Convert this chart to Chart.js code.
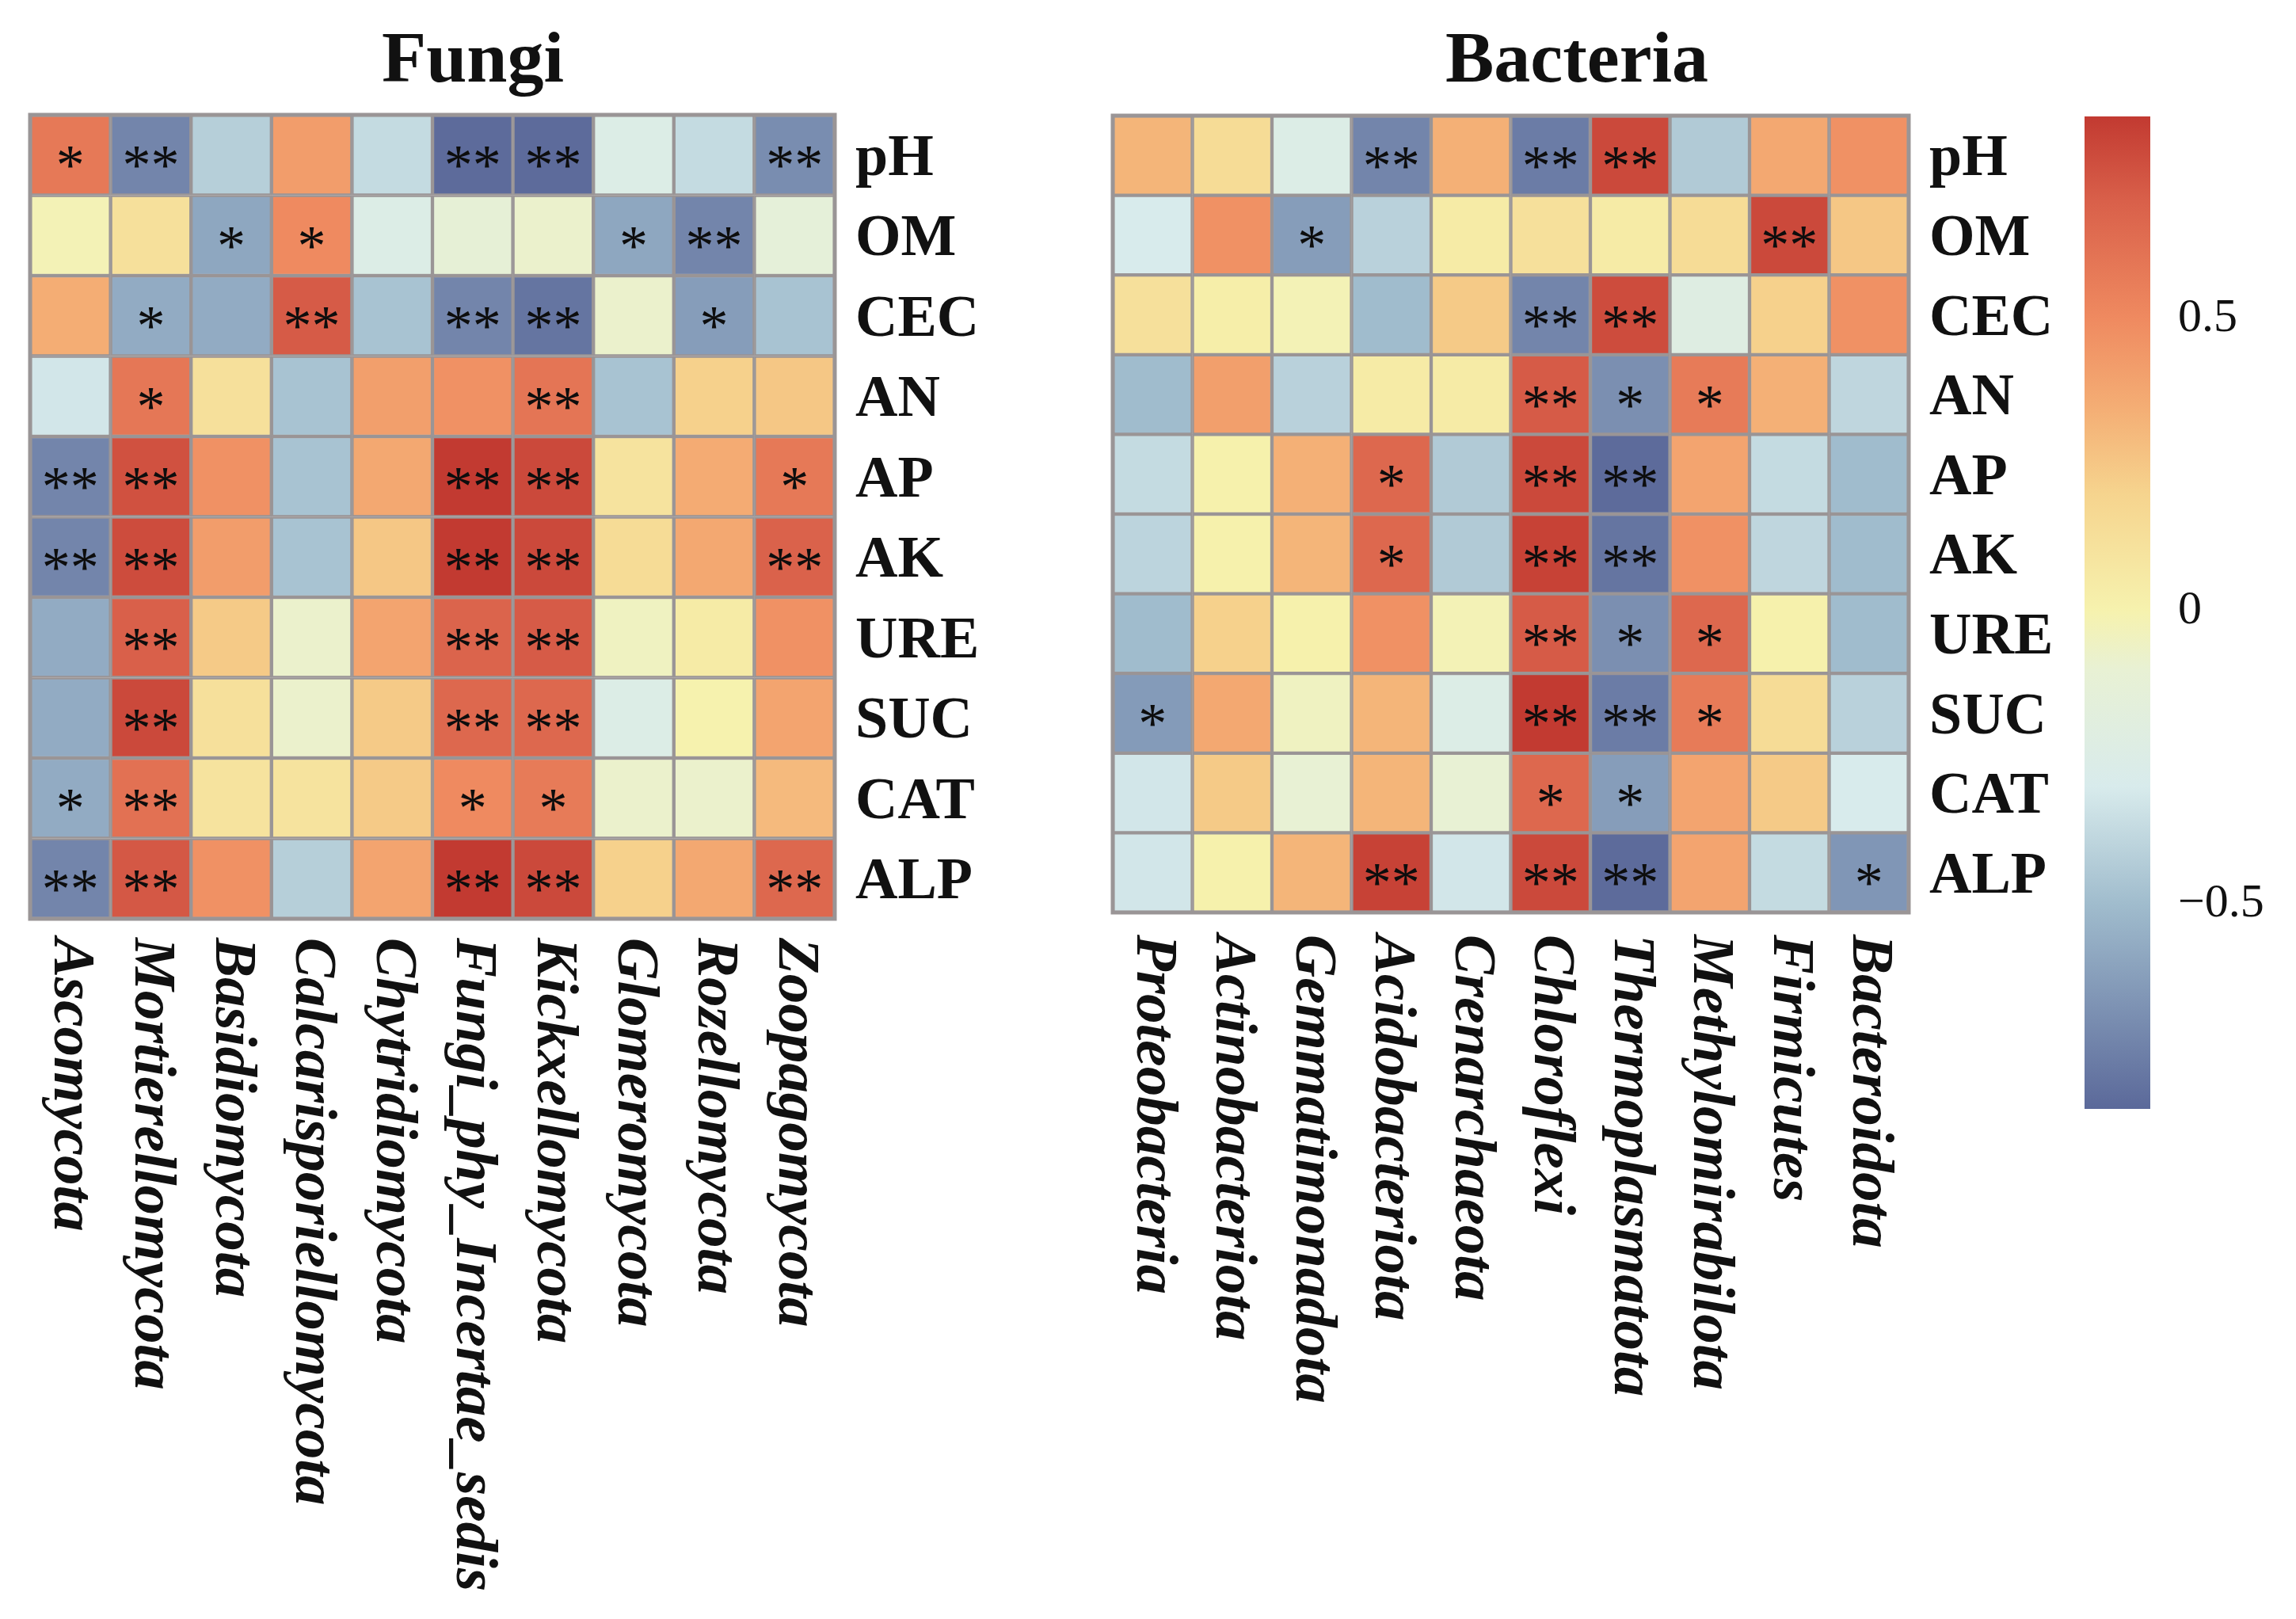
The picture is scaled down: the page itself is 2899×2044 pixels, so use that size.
<!DOCTYPE html>
<html>
<head>
<meta charset="utf-8">
<script src="https://cdn.jsdelivr.net/npm/chart.js@4.4.1/dist/chart.umd.min.js"></script>
<style>
  html, body { margin: 0; padding: 0; background: #fff; }
  #wrap { position: relative; width: 2899px; height: 2044px; background: #fff; }
  canvas { position: absolute; left: 0; top: 0; }
</style>
</head>
<body>
<div id="wrap">
  <canvas id="fungi" width="2899" height="2044"></canvas>
  <canvas id="bacteria" width="2899" height="2044"></canvas>
  <canvas id="bar" width="2899" height="2044"></canvas>
</div>
<script>
const soilVars = ['pH', 'OM', 'CEC', 'AN', 'AP', 'AK', 'URE', 'SUC', 'CAT', 'ALP'];

const fungiTaxa = ['Ascomycota', 'Mortierellomycota', 'Basidiomycota', 'Calcarisporiellomycota',
  'Chytridiomycota', 'Fungi_phy_Incertae_sedis', 'Kickxellomycota', 'Glomeromycota',
  'Rozellomycota', 'Zoopagomycota'];

const bacteriaTaxa = ['Proteobacteria', 'Actinobacteriota', 'Gemmatimonadota', 'Acidobacteriota',
  'Crenarchaeota', 'Chloroflexi', 'Thermoplasmatota', 'Methylomirabilota', 'Firmicutes', 'Bacteroidota'];

// correlation, one row per soil variable
const fungiR = [
  [0.58, -0.73, -0.42, 0.42, -0.37, -0.84, -0.84, -0.25, -0.37, -0.70],
  [-0.02, 0.12, -0.59, 0.50, -0.25, -0.12, -0.08, -0.59, -0.73, -0.14],
  [0.35, -0.57, -0.57, 0.72, -0.47, -0.73, -0.80, -0.08, -0.63, -0.47],
  [-0.32, 0.59, 0.12, -0.47, 0.41, 0.47, 0.60, -0.47, 0.21, 0.25],
  [-0.73, 0.76, 0.47, -0.47, 0.37, 0.85, 0.79, 0.10, 0.36, 0.58],
  [-0.73, 0.78, 0.42, -0.47, 0.25, 0.85, 0.79, 0.15, 0.37, 0.69],
  [-0.57, 0.70, 0.24, -0.08, 0.39, 0.68, 0.72, -0.05, 0.05, 0.47],
  [-0.57, 0.79, 0.12, -0.08, 0.24, 0.66, 0.66, -0.25, 0.00, 0.39],
  [-0.57, 0.62, 0.10, 0.10, 0.24, 0.50, 0.57, -0.08, -0.08, 0.30],
  [-0.73, 0.73, 0.47, -0.42, 0.39, 0.85, 0.79, 0.21, 0.37, 0.66]
];
const fungiSig = [
  ['*', '**', '', '', '', '**', '**', '', '', '**'],
  ['', '', '*', '*', '', '', '', '*', '**', ''],
  ['', '*', '', '**', '', '**', '**', '', '*', ''],
  ['', '*', '', '', '', '', '**', '', '', ''],
  ['**', '**', '', '', '', '**', '**', '', '', '*'],
  ['**', '**', '', '', '', '**', '**', '', '', '**'],
  ['', '**', '', '', '', '**', '**', '', '', ''],
  ['', '**', '', '', '', '**', '**', '', '', ''],
  ['*', '**', '', '', '', '*', '*', '', '', ''],
  ['**', '**', '', '', '', '**', '**', '', '', '**']
];

const bacteriaR = [
  [0.32, 0.15, -0.25, -0.73, 0.34, -0.77, 0.79, -0.44, 0.37, 0.47],
  [-0.30, 0.47, -0.63, -0.41, 0.05, 0.12, 0.05, 0.15, 0.79, 0.25],
  [0.12, 0.03, -0.02, -0.50, 0.24, -0.73, 0.78, -0.22, 0.21, 0.47],
  [-0.50, 0.41, -0.41, 0.05, 0.05, 0.72, -0.69, 0.57, 0.34, -0.39],
  [-0.37, 0.01, 0.34, 0.66, -0.44, 0.79, -0.84, 0.39, -0.37, -0.50],
  [-0.40, 0.01, 0.32, 0.66, -0.44, 0.82, -0.80, 0.47, -0.39, -0.50],
  [-0.50, 0.21, 0.01, 0.47, -0.02, 0.72, -0.69, 0.66, 0.01, -0.50],
  [-0.64, 0.37, -0.05, 0.32, -0.25, 0.85, -0.77, 0.57, 0.15, -0.41],
  [-0.32, 0.24, -0.10, 0.32, -0.10, 0.66, -0.63, 0.39, 0.24, -0.30],
  [-0.32, 0.01, 0.32, 0.82, -0.32, 0.79, -0.84, 0.39, -0.37, -0.66]
];
const bacteriaSig = [
  ['', '', '', '**', '', '**', '**', '', '', ''],
  ['', '', '*', '', '', '', '', '', '**', ''],
  ['', '', '', '', '', '**', '**', '', '', ''],
  ['', '', '', '', '', '**', '*', '*', '', ''],
  ['', '', '', '*', '', '**', '**', '', '', ''],
  ['', '', '', '*', '', '**', '**', '', '', ''],
  ['', '', '', '', '', '**', '*', '*', '', ''],
  ['*', '', '', '', '', '**', '**', '*', '', ''],
  ['', '', '', '', '', '*', '*', '', '', ''],
  ['', '', '', '**', '', '**', '**', '', '', '*']
];

const barTicks = [-0.5, 0, 0.5];
const barMin = -0.85;
const barMax = 0.845;

// colour scale (blue - yellow - red)
const cmap = [
  [-0.85, [91, 105, 154]],
  [-0.5, [160, 188, 205]],
  [-0.3, [216, 235, 236]],
  [-0.1, [232, 241, 212]],
  [0, [246, 242, 174]],
  [0.2, [246, 212, 142]],
  [0.35, [244, 173, 116]],
  [0.5, [239, 138, 96]],
  [0.7, [217, 96, 74]],
  [0.85, [194, 58, 49]]
];

function colorFor(v) {
  if (v <= cmap[0][0]) return 'rgb(' + cmap[0][1].join(',') + ')';
  for (let k = 1; k < cmap.length; k++) {
    if (v <= cmap[k][0]) {
      const a = cmap[k - 1], b = cmap[k];
      const t = (v - a[0]) / (b[0] - a[0]);
      const c = a[1].map((x, n) => Math.round(x + (b[1][n] - x) * t));
      return 'rgb(' + c.join(',') + ')';
    }
  }
  return 'rgb(' + cmap[cmap.length - 1][1].join(',') + ')';
}

const FONT = '"Liberation Serif", "Times New Roman", serif';
const GRID = '#9a9596';

function heatLabels(title, titleX, sig, labelGap) {
  return {
    id: 'heatLabels',
    afterDatasetsDraw(chart) {
      const { ctx, chartArea, scales } = chart;
      const xs = scales.x, ys = scales.y;
      ctx.save();
      // outer frame
      ctx.strokeStyle = GRID;
      ctx.lineWidth = 5;
      ctx.strokeRect(chartArea.left, chartArea.top, chartArea.right - chartArea.left, chartArea.bottom - chartArea.top);

      // significance stars
      ctx.fillStyle = '#0d0d0d';
      ctx.font = '72px ' + FONT;
      ctx.textAlign = 'center';
      ctx.textBaseline = 'alphabetic';
      const m = ctx.measureText('*');
      const shift = (m.actualBoundingBoxAscent - m.actualBoundingBoxDescent) / 2;
      sig.forEach((row, i) => {
        row.forEach((s, j) => {
          if (!s) return;
          ctx.fillText(s, xs.getPixelForValue(j), ys.getPixelForValue(i) + shift + 3);
        });
      });

      // row labels
      ctx.fillStyle = '#111';
      ctx.font = 'bold 74px ' + FONT;
      ctx.textAlign = 'left';
      ctx.textBaseline = 'middle';
      soilVars.forEach((v, i) => {
        ctx.fillText(v, chartArea.right + 26, ys.getPixelForValue(i) + 6);
      });

      // column labels, rotated
      ctx.font = 'italic bold 75px ' + FONT;
      chart.data.labels.forEach((lab, j) => {
        ctx.save();
        ctx.translate(xs.getPixelForValue(j), chartArea.bottom + labelGap);
        ctx.rotate(Math.PI / 2);
        ctx.textAlign = 'left';
        ctx.textBaseline = 'middle';
        ctx.fillText(lab, 0, 0);
        ctx.restore();
      });

      // title
      ctx.font = 'bold 92px ' + FONT;
      ctx.textAlign = 'center';
      ctx.textBaseline = 'alphabetic';
      ctx.fillText(title, titleX, 103);
      ctx.restore();
    }
  };
}

function heatmap(id, taxa, values, sig, title, titleX, pad, labelGap) {
  const datasets = values.map((row, i) => ({
    label: soilVars[i],
    data: taxa.map(() => [i - 0.5, i + 0.5]),
    backgroundColor: row.map(colorFor),
    borderColor: GRID,
    borderWidth: 2.5,
    borderSkipped: false,
    grouped: false,
    barPercentage: 1,
    categoryPercentage: 1
  }));
  return new Chart(document.getElementById(id), {
    type: 'bar',
    data: { labels: taxa, datasets: datasets },
    options: {
      responsive: false,
      animation: false,
      devicePixelRatio: 1,
      layout: { padding: pad },
      plugins: { legend: { display: false }, tooltip: { enabled: false } },
      scales: {
        x: { type: 'category', display: false, offset: true },
        y: { type: 'linear', display: false, min: -0.5, max: 9.5, reverse: true }
      }
    },
    plugins: [heatLabels(title, titleX, sig, labelGap)]
  });
}

heatmap('fungi', fungiTaxa, fungiR, fungiSig, 'Fungi', 597,
  { left: 38, top: 145, right: 2899 - 1054, bottom: 2044 - 1160 }, 24);
heatmap('bacteria', bacteriaTaxa, bacteriaR, bacteriaSig, 'Bacteria', 1991,
  { left: 1405, top: 146, right: 2899 - 2410, bottom: 2044 - 1152 }, 28);

// colour bar
new Chart(document.getElementById('bar'), {
  type: 'bar',
  data: {
    labels: [''],
    datasets: [{
      data: [[barMin, barMax]],
      borderWidth: 0,
      barPercentage: 1,
      categoryPercentage: 1,
      backgroundColor(context) {
        const chart = context.chart;
        const { ctx, chartArea, scales } = chart;
        if (!chartArea) return null;
        const y0 = scales.y.getPixelForValue(barMin);
        const y1 = scales.y.getPixelForValue(barMax);
        const g = ctx.createLinearGradient(0, y0, 0, y1);
        cmap.forEach(([v]) => {
          const t = Math.min(1, Math.max(0, (v - barMin) / (barMax - barMin)));
          g.addColorStop(t, colorFor(v));
        });
        return g;
      }
    }]
  },
  options: {
    responsive: false,
    animation: false,
    devicePixelRatio: 1,
    layout: { padding: { left: 2632, top: 147, right: 0, bottom: 2044 - 1400 } },
    plugins: { legend: { display: false }, tooltip: { enabled: false } },
    scales: {
      x: { type: 'category', display: false, offset: true },
      y: {
        type: 'linear',
        position: 'right',
        min: barMin,
        max: barMax,
        grid: { display: false, drawTicks: false },
        border: { display: false },
        afterBuildTicks(scale) { scale.ticks = barTicks.map(v => ({ value: v })); },
        afterFit(scale) { scale.width = 2899 - 2715; },
        ticks: {
          padding: 35,
          color: '#111',
          font: { family: FONT, size: 60 },
          callback: v => (v < 0 ? '\u2212' + Math.abs(v) : String(v))
        }
      }
    }
  }
});
</script>
</body>
</html>
